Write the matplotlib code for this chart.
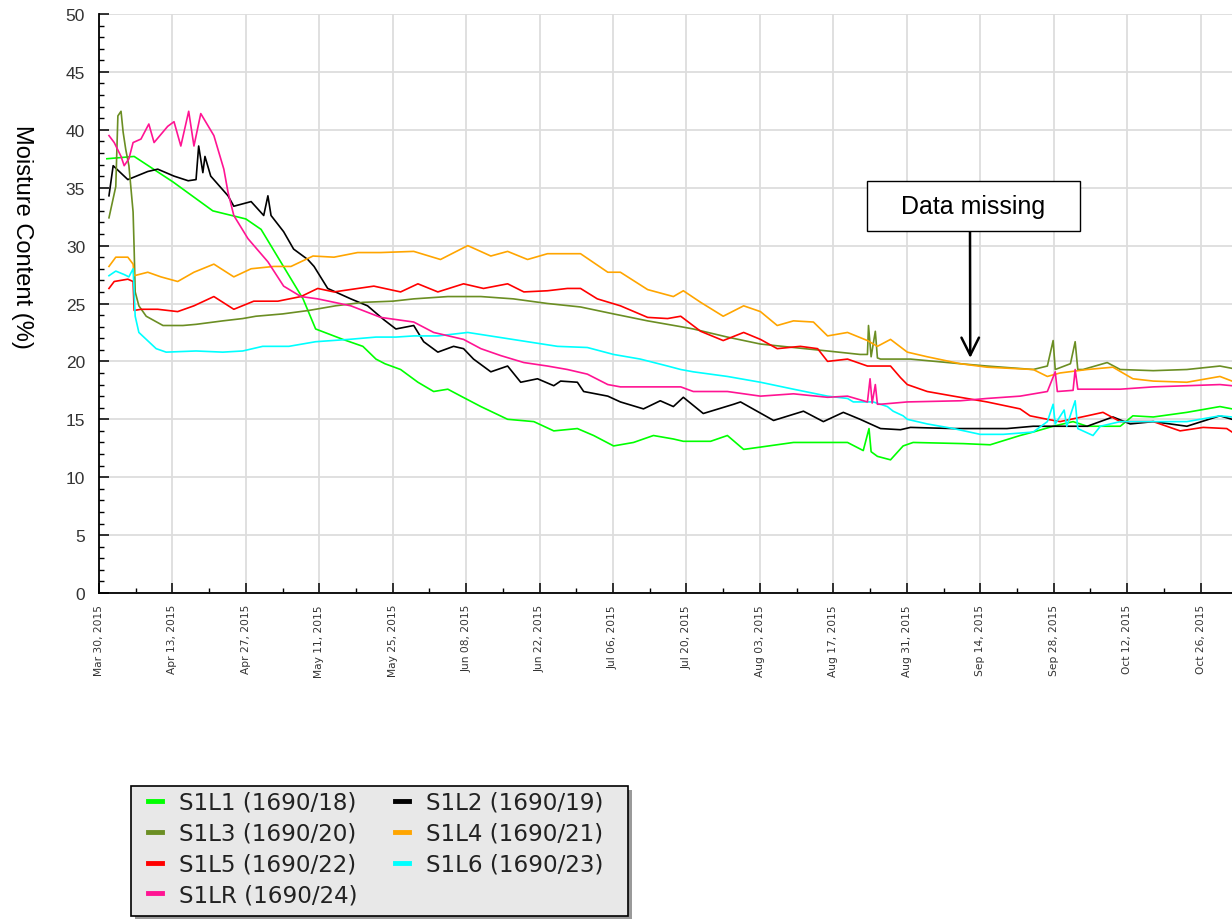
import numpy as np
import matplotlib
matplotlib.use("Agg")
import matplotlib.pyplot as plt
import matplotlib.dates as mdates
from matplotlib.lines import Line2D
from matplotlib.patches import Rectangle

START = np.datetime64("2015-03-30")

# x values: days after Mar 30, 2015 ; y values: moisture content (%)
s1l1_days = [1.5, 6.7, 14.1, 21.7, 28, 30.9, 38.9, 41.3, 46.5, 50.3, 52.8, 54.5, 57.5, 60.8, 63.8,
             66.5, 69, 72.8, 77.9, 82.9, 86.7, 91.2, 94.3, 98.1, 101.9, 105.7, 109.5, 111.4, 116.6,
             119.8, 122.9, 126.1, 132.4, 138.9, 142.7, 145.7, 146.8, 147.2, 148.4, 150.9, 153.3,
             155.2, 164.8, 169.9, 175.6, 178.1, 181.9, 185.7, 188.4, 194.7, 197.1, 201, 207.4,
             213.7, 216]
s1l1_vals = [37.5, 37.7, 35.5, 33.0, 32.3, 31.4, 25.4, 22.8, 21.9, 21.3, 20.2, 19.8, 19.3, 18.2, 17.4,
             17.6, 17.0, 16.1, 15.0, 14.8, 14.0, 14.2, 13.6, 12.7, 13.0, 13.6, 13.3, 13.1, 13.1,
             13.6, 12.4, 12.6, 13.0, 13.0, 13.0, 12.3, 14.2, 12.2, 11.8, 11.5, 12.7,
             13.0, 12.9, 12.8, 13.6, 13.9, 14.4, 14.8, 14.4, 14.4, 15.3, 15.2, 15.6,
             16.1, 15.9]

s1l2_days = [1.9, 2.7, 5.5, 9.3, 11.2, 14.3, 17.0, 18.5, 19.0, 19.8, 20.2, 21.3, 24.6, 25.7, 29.0,
             31.4, 32.2, 32.8, 35.2, 37.1, 39.8, 41.0, 43.6, 48.0, 51.2, 54.3, 56.6, 60.0, 61.9,
             64.6, 67.6, 69.5, 71.4, 74.7, 77.9, 80.4, 83.6, 86.7, 88.0, 91.2, 92.4, 97.0, 99.4,
             103.8, 107.0, 109.5, 111.4, 115.2, 121.0, 122.3, 128.6, 134.3, 138.1, 141.9, 145.1,
             149.0, 152.8, 154.7, 162.9, 173.1, 178.1, 188.4, 193.3, 196.6, 201, 207.4, 213.7, 216]
s1l2_vals = [34.3, 36.9, 35.7, 36.4, 36.6, 36.0, 35.6, 35.7, 38.6, 36.3, 37.7, 36.0, 34.3, 33.4, 33.8,
             32.6, 34.3, 32.6, 31.2, 29.7, 28.8, 28.2, 26.3, 25.4, 24.8, 23.6, 22.8, 23.1, 21.7,
             20.8, 21.3, 21.1, 20.2, 19.1, 19.6, 18.2, 18.5, 17.9, 18.3, 18.2, 17.4, 17.0, 16.5,
             15.9, 16.6, 16.1, 16.9, 15.5, 16.3, 16.5, 14.9, 15.7, 14.8, 15.6, 15.0,
             14.2, 14.1, 14.3, 14.2, 14.2, 14.4, 14.4, 15.2, 14.6, 14.8, 14.4, 15.3, 15.0]

s1l3_days = [1.9, 3.2, 3.6, 4.2, 4.6, 5.1, 5.7, 6.5, 6.7, 6.9, 7.6, 9.0, 12.2, 16.0, 18.5, 23.6,
             27.4, 29.9, 35.0, 40.0, 45.1, 50.3, 56.0, 60.0, 66.5, 72.8, 79.0, 85.5, 91.8, 98.1,
             104.6, 110.9, 113.3, 119.8, 126.1, 132.4, 138.9, 145.1, 146.5, 146.7, 147.2, 148.0,
             148.4, 149.0, 154.7, 164.2, 169.3, 178.1, 180.8, 181.9, 182.3, 185.2, 186.1, 186.6,
             187.6, 192.2, 194.7, 201, 207.4, 213.7, 216]
s1l3_vals = [32.4, 35.1, 41.2, 41.6, 39.8, 38.3, 36.9, 32.9, 29.7, 26.0, 24.8, 23.9, 23.1, 23.1, 23.2, 23.5,
             23.7, 23.9, 24.1, 24.4, 24.8, 25.1, 25.2, 25.4, 25.6, 25.6, 25.4, 25.0, 24.7, 24.1,
             23.5, 23.0, 22.8, 22.1, 21.5, 21.2, 20.9, 20.6, 20.6, 23.1, 20.4, 22.6,
             20.3, 20.2, 20.2, 19.8, 19.6, 19.3, 19.6, 21.8, 19.3, 19.8, 21.7, 19.3,
             19.3, 19.9, 19.3, 19.2, 19.3, 19.6, 19.4]

s1l4_days = [1.9, 3.2, 5.5, 6.5, 6.7, 9.3, 11.8, 15.0, 18.1, 21.9, 25.7, 29.0, 33.3, 36.6, 40.8,
             44.8, 49.3, 53.7, 60.0, 65.1, 70.3, 74.7, 77.9, 81.7, 85.5, 91.8, 97.0, 99.4, 104.6,
             109.5, 111.4, 114.7, 119.0, 122.9, 126.1, 129.3, 132.4, 136.2, 138.9, 142.7, 146.5,
             148.4, 150.9, 154.1, 157.9, 164.2, 169.3, 178.1, 180.8, 183.2, 188.4, 193.3, 197.1,
             201, 207.4, 213.7, 216]
s1l4_vals = [28.2, 29.0, 29.0, 28.4, 27.4, 27.7, 27.3, 26.9, 27.7, 28.4, 27.3, 28.0, 28.2, 28.2, 29.1,
             29.0, 29.4, 29.4, 29.5, 28.8, 30.0, 29.1, 29.5, 28.8, 29.3, 29.3, 27.7, 27.7, 26.2,
             25.6, 26.1, 25.1, 23.9, 24.8, 24.3, 23.1, 23.5, 23.4, 22.2, 22.5, 21.8,
             21.3, 21.9, 20.8, 20.4, 19.8, 19.5, 19.3, 18.7, 19.0, 19.3, 19.5, 18.5,
             18.3, 18.2, 18.7, 18.3]

s1l5_days = [1.9, 2.9, 5.5, 6.5, 6.7, 8.0, 11.2, 15.0, 18.1, 21.9, 25.7, 29.5, 34.1, 38.5, 41.7,
             44.8, 52.4, 57.5, 60.8, 64.6, 69.5, 73.3, 77.9, 81.0, 85.5, 89.3, 91.8, 95.0, 99.4,
             104.6, 108.4, 110.9, 114.7, 119.0, 122.9, 126.1, 129.3, 133.7, 137.0, 138.9, 142.7,
             146.5, 150.9, 152.8, 154.1, 157.9, 162.9, 169.3, 175.6, 177.5, 180.8, 183.2, 188.4,
             191.4, 194.7, 201, 206.1, 210.5, 215, 216]
s1l5_vals = [26.3, 26.9, 27.1, 26.9, 24.4, 24.5, 24.5, 24.3, 24.8, 25.6, 24.5, 25.2, 25.2, 25.6, 26.3,
             26.0, 26.5, 26.0, 26.7, 26.0, 26.7, 26.3, 26.7, 26.0, 26.1, 26.3, 26.3, 25.4, 24.8,
             23.8, 23.7, 23.9, 22.6, 21.8, 22.5, 21.9, 21.1, 21.3, 21.1, 20.0, 20.2,
             19.6, 19.6, 18.6, 18.0, 17.4, 17.0, 16.5, 15.9, 15.3, 15.0, 14.8, 15.3,
             15.6, 14.8, 14.8, 14.0, 14.3, 14.2, 13.9]

s1l6_days = [1.9, 3.2, 4.8, 5.7, 6.5, 6.7, 6.9, 7.6, 10.9, 12.8, 18.5, 23.6, 27.4, 31.2, 36.2, 41.3,
             47.6, 52.8, 56.6, 60.0, 64.6, 70.3, 76.0, 81.7, 87.4, 93.1, 98.1, 103.2, 108.4, 110.9,
             113.3, 119.8, 126.1, 132.4, 138.9, 142.7, 143.8, 147.6, 150.3, 151.4, 153.3, 154.1,
             157.9, 162.9, 168.0, 172.4, 178.1, 180.8, 181.9, 182.3, 184.0, 184.5, 186.1, 186.6,
             189.5, 190.9, 194.7, 201, 207.4, 213.7, 216]
s1l6_vals = [27.4, 27.8, 27.5, 27.3, 28.0, 26.0, 23.9, 22.5, 21.1, 20.8, 20.9, 20.8, 20.9, 21.3, 21.3, 21.7,
             21.9, 22.1, 22.1, 22.2, 22.2, 22.5, 22.1, 21.7, 21.3, 21.2, 20.6, 20.2, 19.6, 19.3,
             19.1, 18.7, 18.2, 17.6, 17.0, 16.8, 16.5, 16.5, 16.1, 15.7, 15.3, 15.0,
             14.6, 14.2, 13.7, 13.7, 13.9, 14.8, 16.3, 14.6, 15.8, 14.4, 16.6, 14.2,
             13.6, 14.4, 14.8, 14.8, 14.8, 15.3, 15.2]

s1lr_days = [1.9, 2.9, 4.2, 4.8, 5.7, 6.5, 8.0, 9.5, 10.5, 13.1, 14.3, 15.6, 17.1, 18.1, 19.4, 21.9,
             23.8, 24.6, 25.7, 28.4, 32.2, 35.2, 38.5, 41.7, 48.0, 53.7, 60.0, 63.8, 69.5, 72.8,
             76.6, 81.0, 85.5, 89.3, 93.1, 97.0, 99.4, 104.6, 110.9, 113.3, 119.8, 126.1, 132.4,
             138.9, 142.7, 146.5, 147.0, 147.4, 148.0, 148.4, 149.0, 154.1, 164.2, 169.3, 175.6,
             180.8, 182.3, 182.7, 185.7, 186.1, 186.6, 187.6, 194.7, 201, 207.4, 213.7, 216]
s1lr_vals = [39.5, 38.9, 37.7, 36.9, 37.5, 38.9, 39.2, 40.5, 38.9, 40.3, 40.7, 38.6, 41.6, 38.6, 41.4, 39.5,
             36.6, 34.6, 32.6, 30.6, 28.6, 26.5, 25.6, 25.4, 24.8, 23.8, 23.4, 22.5, 21.9, 21.1,
             20.5, 19.9, 19.6, 19.3, 18.9, 18.0, 17.8, 17.8, 17.8, 17.4, 17.4, 17.0, 17.2,
             16.9, 17.0, 16.5, 18.5, 16.4, 18.0, 16.3, 16.3, 16.5, 16.6, 16.8, 17.0,
             17.4, 19.1, 17.4, 17.5, 19.3, 17.6, 17.6, 17.6, 17.8, 17.9, 18.0, 17.9]

series = [
    ("S1L1 (1690/18)", "#00ff00", s1l1_days, s1l1_vals),
    ("S1L2 (1690/19)", "#000000", s1l2_days, s1l2_vals),
    ("S1L3 (1690/20)", "#6b8e23", s1l3_days, s1l3_vals),
    ("S1L4 (1690/21)", "#ffa500", s1l4_days, s1l4_vals),
    ("S1L5 (1690/22)", "#ff0000", s1l5_days, s1l5_vals),
    ("S1L6 (1690/23)", "#00ffff", s1l6_days, s1l6_vals),
    ("S1LR (1690/24)", "#ff1493", s1lr_days, s1lr_vals),
]


def to_dates(days):
    mins = np.round(np.array(days) * 1440).astype(int)
    return START + mins.astype("timedelta64[m]")


W, H = 1232, 920
fig = plt.figure(figsize=(W / 100, H / 100), dpi=100)
ax = fig.add_axes([99 / W, 1 - 594 / H, 1 - 99 / W, (594 - 15) / H])

handles = {}
for name, color, days, vals in series:
    ax.plot(to_dates(days), vals, color=color, lw=1.2)
    handles[name] = Line2D([], [], color=color, lw=3.5)

ax.set_ylim(0, 50)
ax.set_xlim(START, START + np.timedelta64(216, "D"))
ax.yaxis.set_major_locator(plt.MultipleLocator(5))
ax.yaxis.set_minor_locator(plt.MultipleLocator(1))
ax.set_xticks(to_dates(np.arange(0, 217, 14)))
ax.set_xticks(to_dates(np.arange(0, 217, 7)), minor=True)
ax.xaxis.set_major_formatter(mdates.DateFormatter("%b %d, %Y"))

ax.grid(True, which="major", color="#dddddd", lw=1.3)
ax.set_axisbelow(True)
for s in ("top", "right"):
    ax.spines[s].set_visible(False)
for s in ("left", "bottom"):
    ax.spines[s].set_linewidth(1.3)

ax.tick_params(which="major", direction="in", length=7, width=1.1, color="black")
ax.tick_params(which="minor", direction="in", length=3.5, width=1.0, color="black")
ax.tick_params(axis="y", pad=10)
ax.tick_params(axis="x", pad=8)
for lab in ax.get_yticklabels():
    lab.set_fontfamily("Liberation Sans")
    lab.set_fontsize(12.5)
    lab.set_color("#333333")
for lab in ax.get_xticklabels():
    lab.set_fontfamily("DejaVu Sans")
    lab.set_fontsize(7.7)
    lab.set_rotation(90)
    lab.set_color("#333333")

ax.set_ylabel("Moisture Content (%)", fontfamily="Liberation Sans", fontsize=17,
              rotation=270, va="center", ha="center")
ax.yaxis.set_label_coords((22 - 99) / (W - 99), (594 - 237) / 579)

# annotation box + arrow
fig.patches.append(Rectangle((867 / W, 688 / H), 213 / W, 50 / H,
                             transform=fig.transFigure, facecolor="white",
                             edgecolor="black", lw=1.0, zorder=5))
fig.text(973.5 / W, 713 / H, "Data missing", fontfamily="Liberation Sans",
         fontsize=18, ha="center", va="center", zorder=6)
ax.annotate("", xy=(to_dates([166.1])[0], 20.3), xycoords="data",
            xytext=(970 / W, 688 / H), textcoords="figure fraction",
            arrowprops=dict(arrowstyle="->,head_length=0.9,head_width=0.45",
                            mutation_scale=14, lw=1.8, color="black",
                            shrinkA=0, shrinkB=0))

# legend box with drop shadow
fig.patches.append(Rectangle((135 / W, (H - 921) / H), 497 / W, 130 / H,
                             transform=fig.transFigure, facecolor="#9a9a9a",
                             edgecolor="none", zorder=2))
fig.patches.append(Rectangle((131 / W, (H - 917) / H), 497 / W, 130 / H,
                             transform=fig.transFigure, facecolor="#e8e8e8",
                             edgecolor="black", lw=1.2, zorder=3))

order = ["S1L1 (1690/18)", "S1L3 (1690/20)", "S1L5 (1690/22)", "S1LR (1690/24)",
         "S1L2 (1690/19)", "S1L4 (1690/21)", "S1L6 (1690/23)"]
leg = fig.legend([handles[n] for n in order], order, ncol=2, loc="upper left",
                 bbox_to_anchor=(148 / W, 1 - 792 / H), borderaxespad=0,
                 prop={"family": "DejaVu Sans", "size": 16.6}, handlelength=0.6,
                 handletextpad=0.75, columnspacing=1.62, labelspacing=0.34,
                 borderpad=0, frameon=False)
for t in leg.get_texts():
    t.set_color("#222222")

fig.savefig("out.png", dpi=100)
